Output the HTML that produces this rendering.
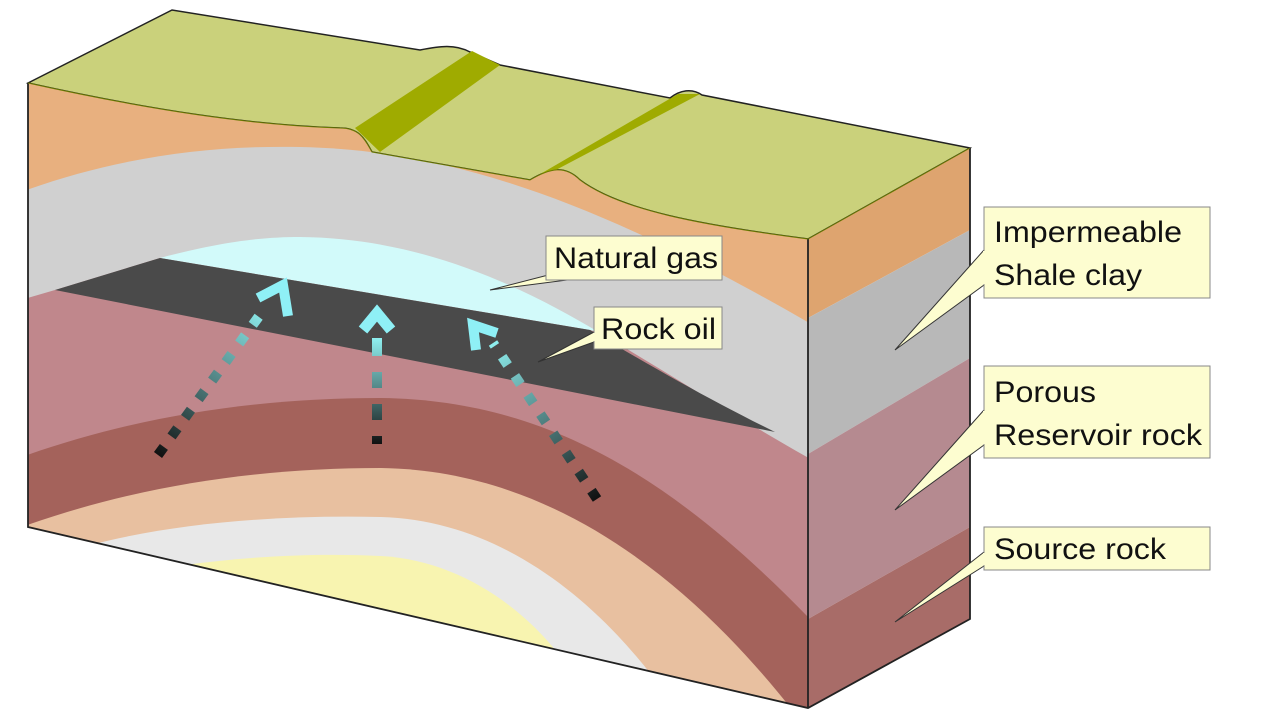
<!DOCTYPE html>
<html><head><meta charset="utf-8"><style>
html,body{margin:0;padding:0;background:#fff;}
svg{display:block;}
text{font-family:"Liberation Sans",sans-serif;font-size:30px;fill:#111;}
</style></head><body>
<svg width="1280" height="720" viewBox="0 0 1280 720">
<defs>
<clipPath id="front"><path d="M28,83 C150,110 250,125 340,128 C360,128 365,140 372,152 L530,180 C550,168 565,165 580,180 C620,210 700,225 808,239 L808,708 L28,527 Z"/></clipPath>
<linearGradient id="g1" gradientUnits="userSpaceOnUse" x1="158" y1="455" x2="265" y2="308"><stop offset="0" stop-color="#111"/><stop offset="1" stop-color="#8ff0f0"/></linearGradient>
<linearGradient id="g2" gradientUnits="userSpaceOnUse" x1="377" y1="444" x2="377" y2="338"><stop offset="0" stop-color="#111"/><stop offset="1" stop-color="#8ff0f0"/></linearGradient>
<linearGradient id="g3" gradientUnits="userSpaceOnUse" x1="597" y1="499" x2="493" y2="343"><stop offset="0" stop-color="#111"/><stop offset="1" stop-color="#8ff0f0"/></linearGradient>
</defs>
<path d="M28,83 L172,10 L420,50 C440,46 455,44 470,52 L500,65 L670,98 C680,90 692,88 702,95 L970,148 L808,239 C700,225 620,210 580,180 C565,165 550,168 530,180 L372,152 C365,140 360,128 340,128 C250,125 150,110 28,83 Z" fill="#cad17b" stroke="#222" stroke-width="1.5"/>
<polygon points="355,128 472,51 500,65 380,152" fill="#9fab00"/>
<polygon points="530,180 678,94 700,94 552,172" fill="#9fab00"/>
<g clip-path="url(#front)">
<rect x="0" y="0" width="820" height="720" fill="#e8b07f"/>
<path d="M0,200 C100,160 200,145 300,147 C450,150 600,200 830,335 L830,720 L0,720 Z" fill="#d0d0d0"/>
<path d="M160,258 C220,242 260,237 300,237 C420,238 520,285 600,333 L590,330 Z" fill="#d2fafa"/>
<path d="M0,306 L55,290 L160,258 L590,330 L600,333 C680,380 740,420 830,470 L830,720 L0,720 Z" fill="#c0878c"/>
<path d="M55,290 L160,258 L590,330 C660,372 720,405 775,432 Z" fill="#4a4a4a"/>
<path d="M0,465 C130,415 260,398 380,398 C550,400 680,480 830,640 L830,720 L0,720 Z" fill="#a4625b"/>
<path d="M0,535 C130,485 260,468 380,468 C560,470 700,590 800,720 L0,720 Z" fill="#e8c0a0"/>
<path d="M90,545 C180,522 280,515 380,517 C500,520 600,600 670,700 L0,720 Z" fill="#e8e8e8"/>
<path d="M185,565 C250,556 320,553 380,556 C460,560 530,610 570,670 L0,720 Z" fill="#f8f4b0"/>
</g>
<g>
<polygon points="808,239 970,148 970,230 808,318" fill="#dea46f"/>
<polygon points="808,318 970,230 970,358 808,454" fill="#b8b8b8"/>
<polygon points="808,454 970,358 970,527 808,619" fill="#b58a90"/>
<polygon points="808,619 970,527 970,619 808,708" fill="#a86c68"/>
</g>
<path d="M28,83 L28,527 L808,708 L970,619 L970,148 M808,239 L808,708" fill="none" stroke="#222" stroke-width="1.8"/>
<path d="M28,83 C150,110 250,125 340,128 C360,128 365,140 372,152 L530,180 C550,168 565,165 580,180 C620,210 700,225 808,239 L970,148" fill="none" stroke="#6b7a00" stroke-width="1"/>
<g>
<line x1="158" y1="455" x2="265" y2="308" stroke="url(#g1)" stroke-width="10" stroke-dasharray="10 13"/>
<polyline points="258,298 283,285 288,316" fill="none" stroke="#8ff0f6" stroke-width="10"/>
<line x1="377" y1="444" x2="377" y2="338" stroke="url(#g2)" stroke-width="10" stroke-dasharray="8 16 16 16 16 16 18 0"/>
<polyline points="363,330 377,313 391,330" fill="none" stroke="#8ff0f6" stroke-width="11"/>
<line x1="597" y1="499" x2="493" y2="343" stroke="url(#g3)" stroke-width="10" stroke-dasharray="10 13"/>
<polyline points="476,350 473,325 497,333" fill="none" stroke="#8ff0f6" stroke-width="10"/>
</g>
<g>
<polygon points="560,272 490,290 575,279" fill="#fdfdd0" stroke="#333" stroke-width="1"/>
<rect x="546" y="236" width="176" height="44" fill="#fdfdd0" stroke="#888" stroke-width="1"/>
<line x1="559" y1="272.5" x2="576" y2="278.5" stroke="#fdfdd0" stroke-width="2"/>
<text x="554" y="268" textLength="164" lengthAdjust="spacingAndGlyphs">Natural gas</text>
</g>
<g>
<polygon points="594,332 538,362 594,342" fill="#fdfdd0" stroke="#333" stroke-width="1"/>
<rect x="594" y="307" width="128" height="42" fill="#fdfdd0" stroke="#888" stroke-width="1"/>
<line x1="594" y1="333" x2="594" y2="341" stroke="#fdfdd0" stroke-width="2"/>
<text x="601" y="339" textLength="115" lengthAdjust="spacingAndGlyphs">Rock oil</text>
</g>
<g>
<polygon points="984,250 895,350 984,285" fill="#fdfdd0" stroke="#333" stroke-width="1"/>
<rect x="984" y="207" width="226" height="91" fill="#fdfdd0" stroke="#888" stroke-width="1"/>
<line x1="984" y1="251" x2="984" y2="284" stroke="#fdfdd0" stroke-width="2"/>
<text x="994" y="242" textLength="188" lengthAdjust="spacingAndGlyphs">Impermeable</text>
<text x="994" y="285" textLength="148" lengthAdjust="spacingAndGlyphs">Shale clay</text>
</g>
<g>
<polygon points="984,410 895,510 984,445" fill="#fdfdd0" stroke="#333" stroke-width="1"/>
<rect x="984" y="366" width="226" height="92" fill="#fdfdd0" stroke="#888" stroke-width="1"/>
<line x1="984" y1="411" x2="984" y2="444" stroke="#fdfdd0" stroke-width="2"/>
<text x="994" y="402" textLength="102" lengthAdjust="spacingAndGlyphs">Porous</text>
<text x="994" y="445" textLength="208" lengthAdjust="spacingAndGlyphs">Reservoir rock</text>
</g>
<g>
<polygon points="984,552 895,622 984,566" fill="#fdfdd0" stroke="#333" stroke-width="1"/>
<rect x="984" y="527" width="226" height="43" fill="#fdfdd0" stroke="#888" stroke-width="1"/>
<line x1="984" y1="553" x2="984" y2="565" stroke="#fdfdd0" stroke-width="2"/>
<text x="994" y="559" textLength="172" lengthAdjust="spacingAndGlyphs">Source rock</text>
</g>
</svg>
</body></html>
